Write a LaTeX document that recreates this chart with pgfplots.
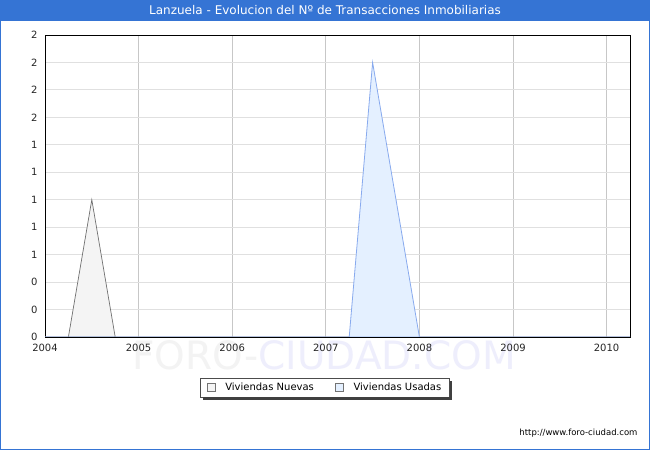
\documentclass[border=0pt]{standalone}
\usepackage{fontspec}
\setmainfont{DejaVu Sans}
\usepackage{pgfplots}
\pgfplotsset{compat=1.18}
\definecolor{titlebar}{HTML}{3574D4}
\definecolor{nuevaline}{HTML}{707070}
\definecolor{nuevafill}{HTML}{F4F4F4}
\definecolor{usadaline}{HTML}{88AAEE}
\definecolor{usadafill}{HTML}{E4F0FF}
\definecolor{wmgray}{HTML}{F3F3F3}
\definecolor{wmblue}{HTML}{EEEEFC}

\begin{document}
\begin{tikzpicture}[x=1bp,y=1bp]
\useasboundingbox (0,0) rectangle (650,450);
\fill[white] (0,0) rectangle (650,450);
\fill[titlebar] (0,429) rectangle (650,450);
\node[text=white,font=\fontsize{12bp}{14bp}\selectfont] at (325,439.5) {Lanzuela - Evolucion del Nº de Transacciones Inmobiliarias};
\node[font=\fontsize{39bp}{41bp}\selectfont] at (324,95) {\textcolor{wmgray}{FORO-}\textcolor{wmblue}{CIUDAD.COM}};
\node[anchor=east,font=\fontsize{8.5bp}{10bp}\selectfont] at (641,17) {http://www.foro-ciudad.com};

\begin{axis}[
  at={(45bp,113bp)}, anchor=south west,
  scale only axis, width=585bp, height=302bp,
  xmin=2004, xmax=2010.25, ymin=0, ymax=2.2,
  xtick={2004,2005,...,2010},
  xticklabels={2004,2005,2006,2007,2008,2009,2010},
  ytick={0,0.2,0.4,0.6,0.8,1.0,1.2,1.4,1.6,1.8,2.0,2.2},
  yticklabels={0,0,0,1,1,1,1,1,2,2,2,2},
  major tick length=0,
  tick label style={font=\fontsize{10bp}{12bp}\selectfont, text=black!85},
  xticklabel style={yshift=-4bp},
  yticklabel style={xshift=-4bp},
  grid=major,
  x grid style={black!22, line width=0.8bp},
  y grid style={black!12, line width=0.8bp},
  axis line style={black, line width=0.9bp},
  legend columns=2,
  legend style={at={(0.4786,-0.167)}, anchor=center, draw=black!70,
    font=\fontsize{10bp}{12bp}\selectfont, inner xsep=6bp, inner ysep=3bp,
    name=leg,
    /tikz/every odd column/.append style={column sep=8bp},
    /tikz/every even column/.append style={column sep=19bp}},
  legend cell align=left,
  legend image code/.code={\draw[#1, draw=black!55, line width=0.6bp] (0bp,-4bp) rectangle (8bp,4bp);},
]
\addplot[draw=nuevaline, fill=nuevafill, line width=0.7bp] coordinates {
  (2004,0) (2004.25,0) (2004.5,1) (2004.75,0) (2005,0) (2006,0) (2007,0)
  (2008,0) (2009,0) (2010,0) (2010.25,0)
} \closedcycle;
\addlegendentry{Viviendas Nuevas}
\addplot[draw=usadaline, fill=usadafill, line width=0.8bp] coordinates {
  (2004,0) (2005,0) (2006,0) (2007,0) (2007.25,0) (2007.5,2) (2008,0)
  (2009,0) (2010,0) (2010.25,0)
} \closedcycle;
\addlegendentry{Viviendas Usadas}
\end{axis}
\fill[black!75] ([xshift=3bp,yshift=-2.5bp]leg.south west) rectangle ([xshift=2.5bp]leg.south east);
\fill[black!75] ([yshift=-3bp]leg.north east) rectangle ([xshift=2.5bp,yshift=-2.5bp]leg.south east);
\draw[titlebar, line width=1bp] (0.5,0.5) rectangle (649.5,449.5);
\end{tikzpicture}
\end{document}
